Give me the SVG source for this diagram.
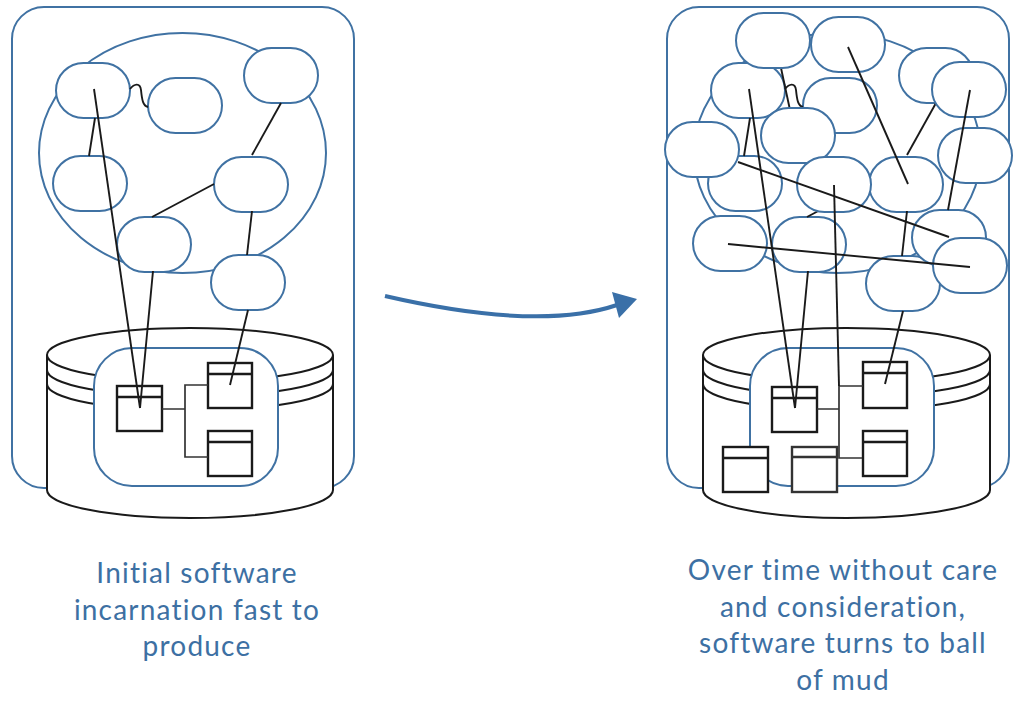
<svg xmlns="http://www.w3.org/2000/svg" width="1018" height="701" viewBox="0 0 1018 701">
<style>
.frame{fill:#fff;stroke:#4072a3;stroke-width:2}
.pill{fill:#fff;stroke:#4072a3;stroke-width:2}
.cyl{fill:#fff;stroke:#1a1a1a;stroke-width:2}
.arc{fill:none;stroke:#1a1a1a;stroke-width:2}
.box{fill:#fff;stroke:#1a1a1a;stroke-width:2.4}
.boxg{fill:#fff;stroke:#333;stroke-width:2.4}
.ln{fill:none;stroke:#1a1a1a;stroke-width:1.9}
.conn{fill:none;stroke:#333;stroke-width:1.7}
.lbl{font-family:Lato,"Noto Sans",sans-serif;font-size:28px;letter-spacing:1.2px;fill:#3d70a3;text-anchor:middle}
</style>
<rect width="1018" height="701" fill="#fff"/>

<!-- LEFT PANEL -->
<g id="left-frame"><rect class="frame" x="12" y="7" width="342" height="481" rx="32"/></g>
<g id="left-store">
  <path class="cyl" d="M47,355 L47,490 A143,28 0 0 0 333,490 L333,355 A143,27 0 0 0 47,355 Z"/>
  <path class="arc" d="M47,355 A143,27 0 0 0 333,355"/>
  <path class="arc" d="M47,370 A143,27 0 0 0 333,370"/>
  <path class="arc" d="M47,384 A143,27 0 0 0 333,384"/>
  <rect class="frame" x="94" y="348" width="184" height="138" rx="38"/>
</g>
<g id="left-box1"><rect class="box" x="117" y="386" width="45" height="45"/><line class="box" x1="117" y1="397" x2="162" y2="397"/></g>
<g id="left-box2"><rect class="box" x="208" y="363" width="44" height="45"/><line class="box" x1="208" y1="374" x2="252" y2="374"/></g>
<g id="left-box3"><rect class="box" x="208" y="431" width="44" height="45"/><line class="box" x1="208" y1="442" x2="252" y2="442"/></g>
<g id="left-ball"><ellipse class="frame" cx="182.5" cy="153" rx="143.5" ry="120"/></g>
<g id="left-pill1"><rect class="pill" x="56" y="63" width="74" height="55" rx="27.5"/></g>
<g id="left-pill2"><rect class="pill" x="148" y="78" width="74" height="55" rx="27.5"/></g>
<g id="left-pill3"><rect class="pill" x="244" y="48" width="74" height="55" rx="27.5"/></g>
<g id="left-pill4"><rect class="pill" x="53" y="156" width="74" height="55" rx="27.5"/></g>
<g id="left-pill5"><rect class="pill" x="214" y="157" width="74" height="55" rx="27.5"/></g>
<g id="left-pill6"><rect class="pill" x="117" y="217" width="74" height="55" rx="27.5"/></g>
<g id="left-pill7"><rect class="pill" x="211" y="255" width="74" height="55" rx="27.5"/></g>
<g id="left-connectors">
  <line class="ln" x1="94" y1="89" x2="140" y2="408"/>
  <line class="ln" x1="95" y1="118" x2="89" y2="156"/>
  <path class="ln" d="M130,89 C134,84 140,82 141,90 C142,100 143,106 148,107"/>
  <line class="ln" x1="281" y1="103" x2="252" y2="155"/>
  <line class="ln" x1="214" y1="184" x2="152" y2="217"/>
  <line class="ln" x1="252" y1="211" x2="247" y2="255"/>
  <line class="ln" x1="153" y1="271" x2="140" y2="408"/>
  <line class="ln" x1="248" y1="310" x2="230" y2="385"/>
  <path class="conn" d="M162,409 H185 M208,385 H185 V457 H208"/>
</g>

<!-- ARROW -->
<g id="arrow">
  <path d="M385,296 Q539,331.5 617,305" fill="none" stroke="#3a70a8" stroke-width="4"/>
  <polygon points="637,299 612,292 619,318" fill="#3a70a8"/>
</g>

<!-- RIGHT PANEL -->
<g id="right-frame"><rect class="frame" x="667" y="7" width="342" height="481" rx="32"/></g>
<g id="right-store">
  <path class="cyl" d="M703,355 L703,490 A143.5,28 0 0 0 990,490 L990,355 A143.5,27 0 0 0 703,355 Z"/>
  <path class="arc" d="M703,355 A143.5,27 0 0 0 990,355"/>
  <path class="arc" d="M703,370 A143.5,27 0 0 0 990,370"/>
  <path class="arc" d="M703,384 A143.5,27 0 0 0 990,384"/>
  <rect class="frame" x="750" y="348" width="184" height="138" rx="38"/>
</g>
<g id="right-boxA"><rect class="box" x="772" y="387" width="45" height="45"/><line class="box" x1="772" y1="398" x2="817" y2="398"/></g>
<g id="right-boxB"><rect class="box" x="863" y="362" width="44" height="46"/><line class="box" x1="863" y1="373" x2="907" y2="373"/></g>
<g id="right-boxC"><rect class="box" x="863" y="431" width="44" height="45"/><line class="box" x1="863" y1="442" x2="907" y2="442"/></g>
<g id="right-boxD"><rect class="box" x="723" y="447" width="45" height="45"/><line class="box" x1="723" y1="458" x2="768" y2="458"/></g>
<g id="right-boxE"><rect class="boxg" x="792" y="447" width="45" height="45"/><line class="boxg" x1="792" y1="457" x2="837" y2="457"/></g>
<g id="right-ball"><ellipse class="frame" cx="837.5" cy="153" rx="143.5" ry="120"/></g>
<g id="right-pill-a"><rect class="pill" x="711" y="63" width="74" height="55" rx="27.5"/></g>
<g id="right-pill-b"><rect class="pill" x="803" y="78" width="74" height="55" rx="27.5"/></g>
<g id="right-pill-c"><rect class="pill" x="899" y="48" width="74" height="55" rx="27.5"/></g>
<g id="right-pill-d"><rect class="pill" x="708" y="156" width="74" height="55" rx="27.5"/></g>
<g id="right-pill-e"><rect class="pill" x="869" y="157" width="74" height="55" rx="27.5"/></g>
<g id="right-pill-f"><rect class="pill" x="772" y="217" width="74" height="55" rx="27.5"/></g>
<g id="right-pill-g"><rect class="pill" x="866" y="256" width="74" height="55" rx="27.5"/></g>
<g id="right-connectors-under">
  <line class="ln" x1="749" y1="89" x2="795" y2="408"/>
  <line class="ln" x1="750" y1="118" x2="744" y2="156"/>
  <path class="ln" d="M785,89 C789,84 795,82 796,90 C797,100 798,106 803,107"/>
  <line class="ln" x1="781" y1="68" x2="790" y2="110"/>
  <line class="ln" x1="936" y1="103" x2="907" y2="155"/>
  <line class="ln" x1="869" y1="184" x2="807" y2="217"/>
  <line class="ln" x1="907" y1="211" x2="902" y2="256"/>
  <line class="ln" x1="808" y1="271" x2="795" y2="408"/>
  <line class="ln" x1="903" y1="311" x2="885" y2="384"/>
  <path class="conn" d="M817,409 H839 M863,386 H839 V458 H862"/>
</g>
<g id="right-pill-h"><rect class="pill" x="736" y="13" width="74" height="55" rx="27.5"/></g>
<g id="right-pill-i"><rect class="pill" x="811" y="17" width="74" height="55" rx="27.5"/></g>
<g id="right-pill-j"><rect class="pill" x="932" y="62" width="74" height="55" rx="27.5"/></g>
<g id="right-pill-k"><rect class="pill" x="761" y="108" width="74" height="55" rx="27.5"/></g>
<g id="right-pill-l"><rect class="pill" x="665" y="122" width="74" height="55" rx="27.5"/></g>
<g id="right-pill-m"><rect class="pill" x="938" y="128" width="74" height="55" rx="27.5"/></g>
<g id="right-pill-n"><rect class="pill" x="797" y="157" width="74" height="55" rx="27.5"/></g>
<g id="right-pill-o"><rect class="pill" x="693" y="216" width="74" height="55" rx="27.5"/></g>
<g id="right-pill-p"><rect class="pill" x="912" y="210" width="74" height="55" rx="27.5"/></g>
<g id="right-pill-q"><rect class="pill" x="933" y="238" width="74" height="55" rx="27.5"/></g>
<g id="right-connectors">
  <line class="ln" x1="848" y1="47" x2="908" y2="184"/>
  <line class="ln" x1="970" y1="90" x2="948" y2="210"/>
  <line class="ln" x1="738" y1="162" x2="949" y2="237"/>
  <line class="ln" x1="728" y1="244" x2="970" y2="267"/>
  <line class="ln" x1="834" y1="185" x2="839" y2="386"/>
</g>

<!-- LABELS -->
<g id="left-label">
  <text class="lbl" x="197" y="583">Initial software</text>
  <text class="lbl" x="197" y="619.5">incarnation fast to</text>
  <text class="lbl" x="197" y="656">produce</text>
</g>
<g id="right-label">
  <text class="lbl" x="843" y="580">Over time without care</text>
  <text class="lbl" x="843" y="617">and consideration,</text>
  <text class="lbl" x="843" y="653">software turns to ball</text>
  <text class="lbl" x="843" y="690">of mud</text>
</g>
</svg>
